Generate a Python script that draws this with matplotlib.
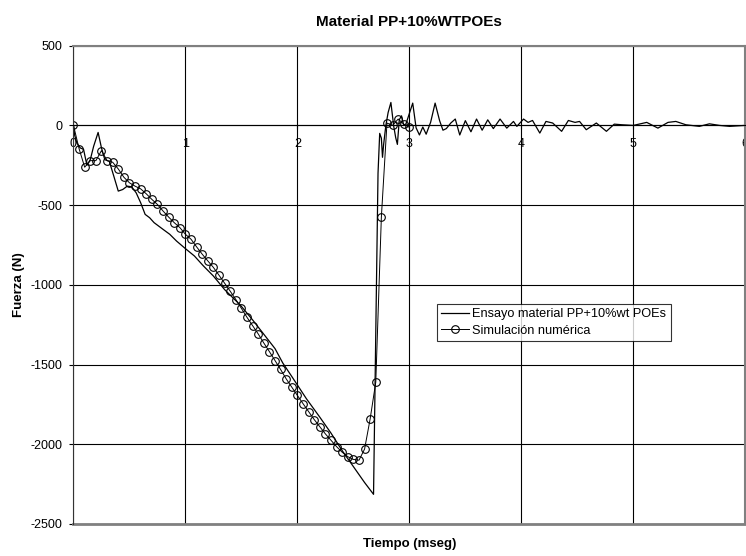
import matplotlib
matplotlib.use("Agg")
import matplotlib.pyplot as plt

plt.rcParams['font.family'] = ['Liberation Sans', 'DejaVu Sans']
plt.rcParams['axes.unicode_minus'] = False

# measured force signal (ms, N)
EXP_T = [0.00, 0.01, 0.03, 0.06, 0.09, 0.12, 0.15, 0.18, 0.22, 0.25, 0.28, 0.32,
         0.36, 0.40, 0.44, 0.48, 0.52, 0.56, 0.60, 0.64, 0.68, 0.72, 0.76, 0.80,
         0.86, 0.92, 1.00, 1.08, 1.16, 1.25, 1.35, 1.49, 1.60, 1.70, 1.80, 1.87,
         1.95, 2.08, 2.20, 2.30, 2.40, 2.50, 2.60, 2.68, 2.70, 2.72, 2.735, 2.75,
         2.76, 2.77, 2.79, 2.81, 2.835, 2.86, 2.878, 2.893, 2.91, 2.93, 2.95, 2.97,
         3.03, 3.06, 3.09, 3.12, 3.15, 3.19, 3.23, 3.27, 3.30, 3.33, 3.37, 3.41,
         3.45, 3.50, 3.55, 3.60, 3.65, 3.70, 3.75, 3.81, 3.87, 3.93, 3.96, 4.02,
         4.06, 4.10, 4.165, 4.22, 4.28, 4.36, 4.42, 4.48, 4.52, 4.58, 4.67, 4.76,
         4.83, 4.90, 5.00, 5.12, 5.22, 5.31, 5.38, 5.47, 5.59, 5.68, 5.77, 5.86,
         5.95, 6.00]
EXP_F = [0, -60, -110, -141, -150, -250, -215, -131, -44, -141, -215, -225,
         -318, -412, -402, -381, -385, -423, -485, -558, -579, -610, -631, -652,
         -683, -725, -773, -819, -881, -945, -1030, -1127, -1220, -1310, -1400, -1491,
         -1575, -1714, -1830, -1930, -2040, -2140, -2240, -2314, -1300, -300, -50, -80,
         -200, -120, 0, 80, 144, -4, -77, -119, 36, 60, 0, 10,
         140, -15, -60, -10, -55, 20, 140, 30, -30, -20, 15, 40,
         -60, 30, -40, 40, -30, 35, -20, 40, -17, 25, -6, 40,
         19, 31, -48, 25, 15, -37, 31, 19, 25, -27, 15, -37,
         8, 4, 0, 19, -17, 19, 25, 4, -6, 10, 0, -6,
         -2, 0]

# numerical simulation, one point every 0.05 ms
SIM_T = [0.00, 0.05, 0.10, 0.15, 0.20, 0.25, 0.30, 0.35, 0.40, 0.45, 0.50,
         0.55, 0.60, 0.65, 0.70, 0.75, 0.80, 0.85, 0.90, 0.95, 1.00,
         1.05, 1.10, 1.15, 1.20, 1.25, 1.30, 1.35, 1.40, 1.45, 1.50,
         1.55, 1.60, 1.65, 1.70, 1.75, 1.80, 1.85, 1.90, 1.95, 2.00,
         2.05, 2.10, 2.15, 2.20, 2.25, 2.30, 2.35, 2.40, 2.45, 2.50,
         2.55, 2.60, 2.65, 2.70, 2.75, 2.80, 2.85, 2.90, 2.95, 3.00]
SIM_F = [0, -146, -262, -221, -221, -158, -221, -231, -273, -325, -360,
         -381, -398, -429, -464, -496, -537, -575, -610, -641, -683,
         -714, -762, -808, -850, -891, -940, -990, -1040, -1092, -1148,
         -1204, -1256, -1308, -1365, -1419, -1475, -1531, -1590, -1642, -1694,
         -1745, -1795, -1845, -1890, -1935, -1975, -2015, -2050, -2078, -2095,
         -2100, -2030, -1840, -1610, -573, 15, 0, 40, 8, -12]

X_TICKS = [0, 1, 2, 3, 4, 5, 6]
Y_TICKS = [-2500, -2000, -1500, -1000, -500, 0, 500]

fig = plt.figure(figsize=(7.46, 5.56), dpi=100)
ax = fig.add_axes([0.0985, 0.0576, 0.9005, 0.8602])

ax.plot(EXP_T, EXP_F, color='black', lw=0.9, label='Ensayo material PP+10%wt POEs')
ax.plot(SIM_T, SIM_F, color='black', lw=0.7, marker='o', ms=5.5, mfc='none',
        mec='black', mew=0.8, label='Simulación numérica')

ax.set_xlim(0, 6)
ax.set_ylim(-2500, 500)
ax.set_xticks(X_TICKS)
ax.set_yticks(Y_TICKS)
ax.grid(True, color='black', lw=0.8)
ax.set_axisbelow(True)

# category axis crosses at zero, plot area framed in grey
ax.spines['bottom'].set_position(('data', 0))
ax.spines['bottom'].set_color('black')
ax.spines['left'].set_color('#333333')
for s in ['top', 'right']:
    ax.spines[s].set_color('#808080')
    ax.spines[s].set_linewidth(1.5)
ax.axhline(-2500, color='#808080', lw=2, clip_on=False)

ax.tick_params(axis='y', direction='out', length=3, pad=5, labelsize=9)
ax.tick_params(axis='x', direction='out', length=3, pad=6, labelsize=9)

ax.set_title('Material PP+10%WTPOEs', fontsize=11, fontweight='bold', pad=14)
ax.set_xlabel('Tiempo (mseg)', fontsize=9.5, fontweight='bold')
ax.xaxis.set_label_coords(0.5, -0.03)
ax.set_ylabel('Fuerza (N)', fontsize=9.5, fontweight='bold')
ax.yaxis.set_label_coords(-0.072, 0.5)

leg = ax.legend(loc='upper left', bbox_to_anchor=(0.541, 0.46), fontsize=9.2,
                frameon=True, fancybox=False, edgecolor='black', handlelength=2.2,
                borderpad=0.35, labelspacing=0.35, handletextpad=0.2, borderaxespad=0)
leg.get_frame().set_linewidth(0.8)

fig.savefig('out.png', dpi=100)
